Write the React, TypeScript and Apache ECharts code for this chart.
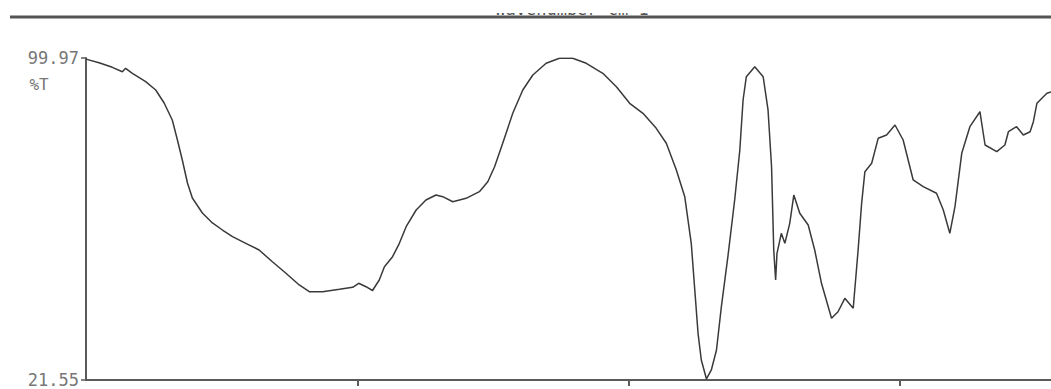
import React, { useEffect, useRef } from "react";
import * as echarts from "echarts";

const wavenumbers = [
  4000, 3952, 3903, 3866, 3854, 3829, 3780, 3743, 3712, 3682, 3663, 3645, 3626, 3608, 3571, 3534, 3497,
  3460, 3411, 3362, 3313, 3263, 3214, 3177, 3128, 3066, 3017, 2995, 2968, 2944, 2919, 2900, 2870, 2845,
  2820, 2783, 2747, 2710, 2685, 2648, 2599, 2550, 2519, 2494, 2464, 2427, 2390, 2353, 2304, 2255, 2206,
  2156, 2095, 2045, 1996, 1947, 1898, 1861, 1824, 1793, 1769, 1756, 1744, 1732, 1713, 1695, 1676, 1658,
  1634, 1609, 1590, 1578, 1566, 1535, 1504, 1486, 1473, 1465, 1458, 1453, 1437, 1424, 1406, 1391, 1369,
  1338, 1314, 1289, 1252, 1228, 1203, 1172, 1154, 1141, 1129, 1104, 1080, 1049, 1018, 988, 951, 914, 865,
  840, 816, 797, 772, 742, 705, 686, 643, 613, 600, 570, 545, 520, 508, 495, 471, 458, 443,
];

const transmittance = [
  99.7, 98.83, 97.7, 96.63, 97.46, 96.24, 94.2, 92.18, 89.01, 84.87, 80.0, 75.13, 69.53, 65.87, 62.22,
  59.79, 58.08, 56.45, 54.84, 53.21, 50.36, 47.54, 44.69, 43.05, 43.05, 43.64, 44.13, 45.1, 44.27, 43.35,
  45.9, 49.14, 51.58, 54.84, 58.88, 62.95, 65.39, 66.6, 66.19, 64.97, 65.8, 67.41, 69.84, 73.5, 79.2,
  86.5, 92.18, 95.83, 98.68, 99.9, 99.9, 98.68, 96.24, 92.98, 88.94, 86.5, 82.85, 79.2, 72.69, 66.19,
  54.84, 43.47, 32.92, 26.42, 21.8, 23.99, 28.86, 39.4, 51.58, 65.39, 77.56, 89.74, 95.42, 97.85, 95.42,
  87.31, 73.5, 53.21, 45.9, 52.41, 57.28, 54.84, 59.71, 66.6, 62.15, 59.3, 53.21, 45.1, 36.58, 38.18,
  41.45, 39.01, 53.21, 64.58, 72.28, 74.33, 80.41, 81.22, 83.65, 80.0, 70.26, 68.63, 67.02, 62.95, 57.28,
  63.76, 76.76, 83.24, 86.89, 78.78, 77.15, 78.78, 82.02, 83.24, 81.22, 82.02, 84.46, 88.94, 90.55, 91.37,
  91.69,
];

const yTickValues = [21.55, 99.97];
const xTickValues = [3000, 2000, 1000];
const xTitle = "Wavenumber cm-1";
const yTitle = "%T";

export default function App() {
  const ref = useRef<HTMLDivElement>(null);

  useEffect(() => {
    if (!ref.current) return;
    const chart = echarts.init(ref.current, null, { renderer: "svg" });
    const data = wavenumbers.map((w, i) => [w, transmittance[i]]);
    const labelFont = "DejaVu Sans Mono";
    chart.setOption({
      animation: false,
      backgroundColor: "#ffffff",
      grid: { left: 86, right: 0, top: 58, bottom: 9, containLabel: false },
      xAxis: {
        type: "value",
        inverse: true,
        min: 443,
        max: 4000,
        axisLine: { show: true, lineStyle: { color: "#5a5a5a", width: 2 } },
        axisTick: {
          show: true,
          inside: false,
          length: 6,
          customValues: xTickValues,
          lineStyle: { color: "#5a5a5a", width: 2 },
        },
        axisLabel: { show: false },
        splitLine: { show: false },
      },
      yAxis: {
        type: "value",
        min: 21.55,
        max: 99.97,
        axisLine: { show: true, lineStyle: { color: "#5a5a5a", width: 2 } },
        axisTick: {
          show: true,
          inside: false,
          length: 5,
          customValues: yTickValues,
          lineStyle: { color: "#5a5a5a", width: 1.5 },
        },
        axisLabel: {
          show: true,
          customValues: yTickValues,
          formatter: (v: number) => v.toFixed(2),
          color: "#777777",
          fontFamily: labelFont,
          fontSize: 17,
          margin: 7,
        },
        splitLine: { show: false },
      },
      graphic: [
        {
          type: "text",
          x: 572,
          y: 17,
          z: 1,
          style: {
            text: xTitle,
            fontFamily: labelFont,
            fontSize: 17,
            fill: "#555",
            textAlign: "center",
            textVerticalAlign: "bottom",
          },
        },
        {
          type: "rect",
          z: 2,
          shape: { x: 0, y: 0, width: 1051, height: 13 },
          style: { fill: "#ffffff" },
        },
        {
          type: "line",
          z: 3,
          shape: { x1: 10, y1: 17, x2: 1051, y2: 17 },
          style: { stroke: "#555", lineWidth: 3 },
        },
        {
          type: "text",
          x: 39,
          y: 84,
          style: {
            text: yTitle,
            fontFamily: labelFont,
            fontSize: 16,
            fill: "#777777",
            textAlign: "center",
            textVerticalAlign: "middle",
          },
        },
      ],
      series: [
        {
          type: "line",
          data,
          showSymbol: false,
          smooth: false,
          lineStyle: { color: "#3a3a3a", width: 1.5 },
        },
      ],
    });
    return () => chart.dispose();
  }, []);

  return (
    <div
      ref={ref}
      style={{ position: "fixed", left: 0, top: 0, width: 1051, height: 389, background: "#fff" }}
    />
  );
}
